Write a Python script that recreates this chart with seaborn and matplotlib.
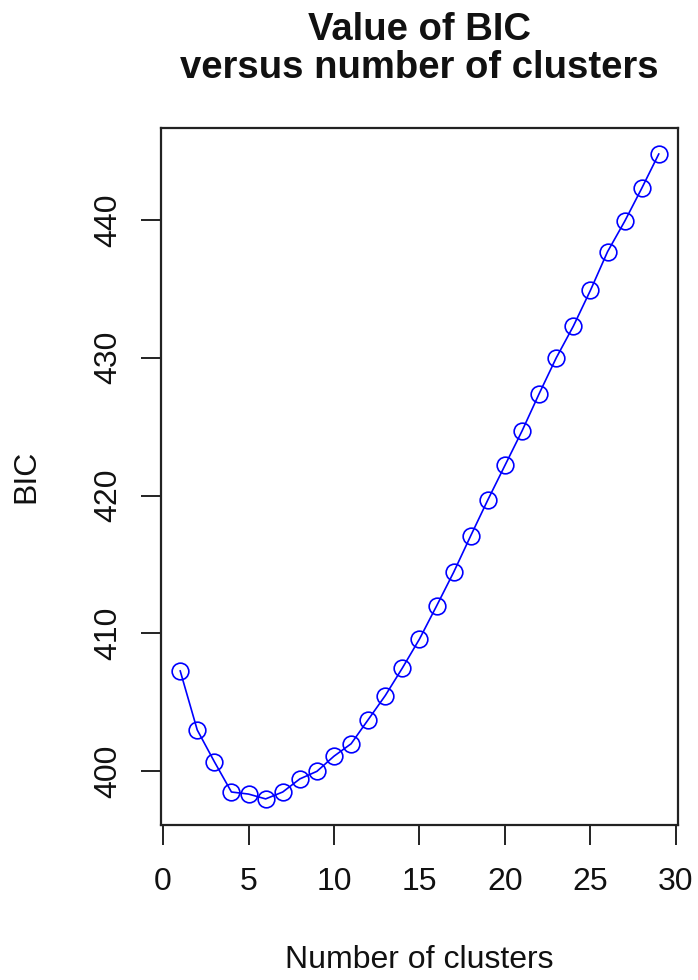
import matplotlib
matplotlib.use("Agg")
import matplotlib.pyplot as plt
import seaborn as sns
import pandas as pd

clusters = list(range(1, 30))
bic = [407.3, 403.0, 400.7, 398.5, 398.35, 398.0, 398.5, 399.45, 400.0, 401.1,
       402.0, 403.75, 405.5, 407.5, 409.6, 412.0, 414.45, 417.1, 419.7, 422.2,
       424.7, 427.4, 430.0, 432.3, 434.9, 437.7, 439.9, 442.3, 444.8]
xticks = [0, 5, 10, 15, 20, 25, 30]
yticks = [400, 410, 420, 430, 440]
title_lines = ["Value of BIC", "versus number of clusters"]
xlabel = "Number of clusters"
ylabel = "BIC"

sns.set_style("white")
plt.rcParams["font.family"] = ["Liberation Sans", "DejaVu Sans"]

df = pd.DataFrame({"k": clusters, "bic": bic})

W, H = 698, 980
fig = plt.figure(figsize=(W / 100, H / 100), dpi=100)
L, R, T, B = 161, 678, 128, 824.7
ax = fig.add_axes([L / W, 1 - B / H, (R - L) / W, (B - T) / H])

sns.lineplot(data=df, x="k", y="bic", ax=ax, color="#0000FF", linewidth=1.2,
             marker="o", markersize=12, markerfacecolor="none",
             markeredgecolor="#0000FF", markeredgewidth=1.2)

xmin, xmax = min(clusters), max(clusters)
ymin, ymax = min(bic), max(bic)
dx = 0.04 * (xmax - xmin)
dy = 0.04 * (ymax - ymin)
ax.set_xlim(xmin - dx, xmax + dx)
ax.set_ylim(ymin - dy, ymax + dy)
ax.set_xticks(xticks)
ax.set_yticks(yticks)
ax.set_yticklabels([str(v) for v in yticks], rotation=90, va="center")

for s in ax.spines.values():
    s.set_visible(True)
    s.set_color("#222222")
    s.set_linewidth(1.6)

ax.tick_params(axis="both", direction="out", length=14.4, width=1.4, color="#222222",
               labelsize=23, labelcolor="#111111")
ax.tick_params(axis="x", bottom=True, pad=16)
ax.tick_params(axis="y", left=True, pad=13)

ax.set_xlabel(xlabel, fontsize=23, color="#111111", va="center")
ax.xaxis.set_label_coords(0.5, (B - 960) / (B - T))
ax.set_ylabel(ylabel, fontsize=23, color="#111111", va="center")
ax.yaxis.set_label_coords((26.5 - L) / (R - L), 0.5)

cx = (L + R) / 2 / W
fig.text(cx, 1 - 40 / H, title_lines[0], ha="center", va="baseline",
         fontsize=27.5, fontweight="bold", color="#111111")
fig.text(cx, 1 - 78 / H, title_lines[1], ha="center", va="baseline",
         fontsize=27.5, fontweight="bold", color="#111111")

fig.savefig("out.png", dpi=100, facecolor="white")
